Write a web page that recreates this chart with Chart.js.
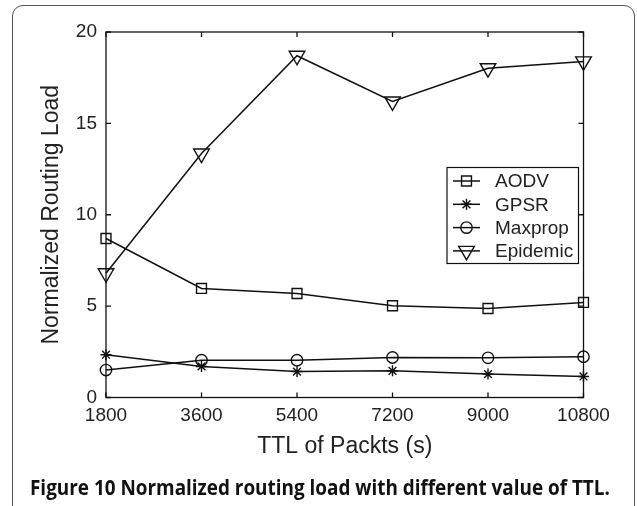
<!DOCTYPE html>
<html>
<head>
<meta charset="utf-8">
<script src="https://cdn.jsdelivr.net/npm/chart.js@4/dist/chart.umd.min.js"></script>
<style>
  body { margin: 0; background: #fff; width: 637px; height: 506px; overflow: hidden; position: relative; }
  #frame { position: absolute; left: 12px; top: 5px; width: 621px; height: 560px; border: 1.5px solid #555; border-radius: 11px; }
  #c { position: absolute; left: 0; top: 0; }
  #caption { position: absolute; left: 30px; top: 474px; font-family: "Open Sans", sans-serif; font-weight: 700; font-size: 21px; line-height: 26px; color: #111; white-space: nowrap; transform-origin: left top; transform: scaleX(0.9); }
</style>
</head>
<body>
<div id="frame"></div>
<canvas id="c" width="637" height="506"></canvas>
<div id="caption">Figure 10 Normalized routing load with different value of TTL.</div>
<script>
// data
var ttl = [1800, 3600, 5400, 7200, 9000, 10800];
var aodv = [8.7, 5.97, 5.69, 5.02, 4.87, 5.2];
var gpsr = [2.34, 1.7, 1.42, 1.46, 1.28, 1.15];
var maxprop = [1.5, 2.04, 2.04, 2.19, 2.17, 2.23];
var epidemic = [6.8, 13.35, 18.7, 16.2, 18.02, 18.39];
var yTicks = [0, 5, 10, 15, 20];

var ink = '#111';

function series(label, values, style, radius, rot) {
    return {
        label: label,
        data: values.map(function (v, i) { return {x: ttl[i], y: v}; }),
        borderColor: ink,
        borderWidth: 1.5,
        pointStyle: style,
        pointRadius: radius,
        pointRotation: rot || 0,
        pointBorderColor: ink,
        pointBackgroundColor: 'rgba(0,0,0,0)',
        pointBorderWidth: 1.4,
        tension: 0,
        clip: false
    };
}

// box round the plot with inward ticks (matlab look)
var boxTicks = {
    id: 'boxTicks',
    beforeDatasetsDraw: function (chart) {
        var ctx = chart.ctx, a = chart.chartArea, x = chart.scales.x, y = chart.scales.y;
        ctx.save();
        ctx.strokeStyle = ink;
        ctx.lineWidth = 1.3;
        ctx.strokeRect(a.left, a.top, a.right - a.left, a.bottom - a.top);
        ctx.beginPath();
        ttl.forEach(function (v) {
            var px = x.getPixelForValue(v);
            ctx.moveTo(px, a.bottom); ctx.lineTo(px, a.bottom - 5);
            ctx.moveTo(px, a.top); ctx.lineTo(px, a.top + 5);
        });
        yTicks.forEach(function (v) {
            var py = y.getPixelForValue(v);
            ctx.moveTo(a.left, py); ctx.lineTo(a.left + 5, py);
            ctx.moveTo(a.right, py); ctx.lineTo(a.right - 5, py);
        });
        ctx.stroke();
        ctx.restore();
    }
};

// legend box inside the plot
var boxLegend = {
    id: 'boxLegend',
    afterDraw: function (chart) {
        var ctx = chart.ctx;
        var L = 447, T = 167.5, W = 131.5, H = 96;
        ctx.save();
        ctx.fillStyle = '#fff';
        ctx.fillRect(L, T, W, H);
        ctx.strokeStyle = ink;
        ctx.lineWidth = 1.2;
        ctx.strokeRect(L, T, W, H);
        chart.data.datasets.forEach(function (ds, i) {
            var cy = T + 13.5 + i * 23.3;
            ctx.strokeStyle = ink;
            ctx.lineWidth = 1.5;
            ctx.beginPath();
            ctx.moveTo(L + 6, cy); ctx.lineTo(L + 33, cy);
            ctx.stroke();
            ctx.fillStyle = 'rgba(0,0,0,0)';
            ctx.lineWidth = 1.4;
            Chart.helpers.drawPoint(ctx, {pointStyle: ds.pointStyle, rotation: ds.pointRotation, radius: ds.pointRadius, borderWidth: 1.4}, L + 19.5, cy);
            ctx.fillStyle = '#222';
            ctx.font = '19px "Liberation Sans", Arial, sans-serif';
            ctx.textBaseline = 'middle';
            ctx.textAlign = 'left';
            ctx.fillText(ds.label, L + 48, cy + 1);
        });
        ctx.restore();
    }
};

Chart.defaults.font.family = '"Liberation Sans", Arial, sans-serif';
Chart.defaults.color = '#222';

var chart = new Chart(document.getElementById('c'), {
    type: 'line',
    data: {
        datasets: [
            series('AODV', aodv, 'rect', 7),
            series('GPSR', gpsr, 'star', 5.5),
            series('Maxprop', maxprop, 'circle', 5.7),
            series('Epidemic', epidemic, 'triangle', 9, 180)
        ]
    },
    options: {
        responsive: false,
        animation: false,
        layout: {padding: {left: 0, top: 32, right: 53.5, bottom: 0}},
        plugins: {legend: {display: false}, tooltip: {enabled: false}},
        scales: {
            x: {
                type: 'linear',
                min: 1800,
                max: 10800,
                afterBuildTicks: function (s) { s.ticks = ttl.map(function (v) { return {value: v}; }); },
                afterFit: function (s) { s.height = 108.5; },
                grid: {display: false, drawTicks: false},
                border: {display: false},
                ticks: {font: {size: 19}, padding: 7, maxRotation: 0, callback: function (v) { return String(v); }},
                title: {display: true, text: 'TTL of Packts (s)', font: {size: 23}, padding: {top: 0, bottom: 46}}
            },
            y: {
                min: 0,
                max: 20,
                afterBuildTicks: function (s) { s.ticks = yTicks.map(function (v) { return {value: v}; }); },
                afterFit: function (s) { s.width = 106; },
                grid: {display: false, drawTicks: false},
                border: {display: false},
                ticks: {font: {size: 19}, padding: 9},
                title: {display: true, text: 'Normalized Routing Load', font: {size: 23}, padding: {top: 38, bottom: 0}}
            }
        }
    },
    plugins: [boxTicks, boxLegend]
});
</script>
</body>
</html>
